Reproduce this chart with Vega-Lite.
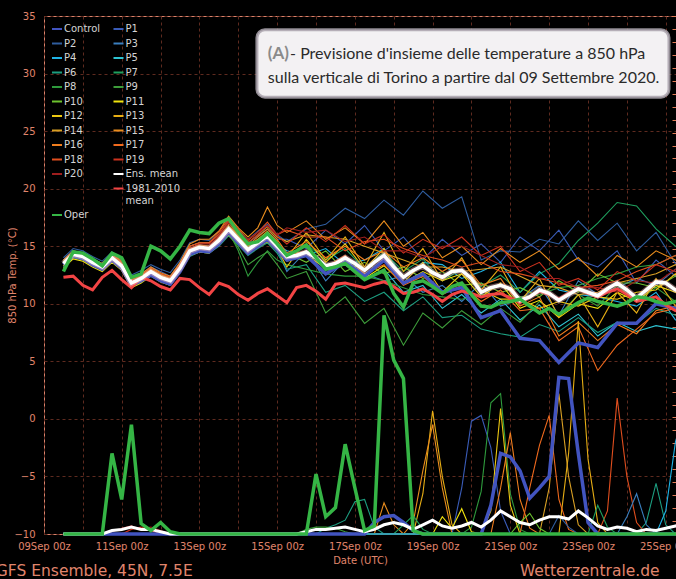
{
"$schema":"https://vega.github.io/schema/vega-lite/v6.json",
"width":632,"height":518,
"autosize":{"type":"none"},
"padding":{"left":44,"top":16,"right":0,"bottom":45},
"background":"#000000",
"config":{
 "view":{"stroke":"#d9826b","strokeWidth":1},
 "axis":{"labelFont":"DejaVu Sans","titleFont":"DejaVu Sans","labelColor":"#e0856c","titleColor":"#e0856c","labelFontSize":10,"titleFontSize":10,"titleFontWeight":"normal","domain":false,"ticks":false,"tickSize":0,"gridColor":"#5e2a1f","gridDash":[3,3],"gridWidth":1,"gridOpacity":1},
 "legend":{"orient":"none","legendX":7,"legendY":7,"columns":2,"direction":"horizontal","symbolType":"stroke","symbolSize":100,"symbolStrokeWidth":2,"labelFont":"DejaVu Sans","labelFontSize":10,"labelColor":"#d4d4d4","rowPadding":3.5,"columnPadding":8.5,"labelOffset":1,"padding":0,"symbolOffset":0,"labelLimit":0}
},
"datasets":{
"temp":[
{"t":"2020-09-09T12:00Z","Oper":12.8,"Mean":13.5,"Clim":12.3,"Control":13.4,"P1":13.8,"P2":14.0,"P3":13.2,"P4":13.6,"P5":13.4,"P6":13.3,"P7":13.5,"P8":13.6,"P9":13.4,"P10":13.5,"P11":13.1,"P12":13.3,"P13":13.6,"P14":13.7,"P15":13.8,"P16":13.5,"P17":13.4,"P18":13.6,"P19":13.5,"P20":13.4},
{"t":"2020-09-09T18:00Z","Oper":14.5,"Mean":14.3,"Clim":12.4,"Control":14.2,"P1":14.6,"P2":14.8,"P3":14.0,"P4":14.4,"P5":14.2,"P6":14.1,"P7":14.4,"P8":14.3,"P9":14.2,"P10":14.3,"P11":13.9,"P12":14.1,"P13":14.4,"P14":14.5,"P15":14.6,"P16":14.4,"P17":14.2,"P18":14.4,"P19":14.3,"P20":14.2},
{"t":"2020-09-10T00:00Z","Oper":14.4,"Mean":14.1,"Clim":11.6,"Control":14.0,"P1":14.4,"P2":14.6,"P3":13.8,"P4":14.2,"P5":14.0,"P6":13.9,"P7":14.2,"P8":14.1,"P9":14.0,"P10":14.1,"P11":13.7,"P12":13.9,"P13":14.2,"P14":14.3,"P15":14.4,"P16":14.2,"P17":14.0,"P18":14.2,"P19":14.1,"P20":14.0},
{"t":"2020-09-10T06:00Z","Oper":13.9,"Mean":13.6,"Clim":11.2,"Control":13.4,"P1":13.9,"P2":14.1,"P3":13.3,"P4":13.7,"P5":13.5,"P6":13.4,"P7":13.7,"P8":13.6,"P9":13.5,"P10":13.6,"P11":13.2,"P12":13.4,"P13":13.7,"P14":13.8,"P15":13.9,"P16":13.6,"P17":13.5,"P18":13.7,"P19":13.6,"P20":13.5},
{"t":"2020-09-10T12:00Z","Oper":13.3,"Mean":13.2,"Clim":12.3,"Control":13.0,"P1":13.5,"P2":13.7,"P3":12.9,"P4":13.3,"P5":13.1,"P6":13.0,"P7":13.3,"P8":13.2,"P9":13.1,"P10":13.2,"P11":12.8,"P12":13.1,"P13":13.3,"P14":13.4,"P15":13.5,"P16":13.3,"P17":13.1,"P18":13.4,"P19":13.2,"P20":13.1},
{"t":"2020-09-10T18:00Z","Oper":14.4,"Mean":14.0,"Clim":12.9,"Control":13.8,"P1":14.3,"P2":14.5,"P3":13.7,"P4":14.1,"P5":13.9,"P6":13.8,"P7":14.1,"P8":13.9,"P9":13.9,"P10":14.0,"P11":13.6,"P12":13.8,"P13":14.2,"P14":14.3,"P15":14.4,"P16":14.1,"P17":13.9,"P18":14.2,"P19":14.0,"P20":13.9},
{"t":"2020-09-11T00:00Z","Oper":14.0,"Mean":13.3,"Clim":12.1,"Control":13.1,"P1":13.7,"P2":13.8,"P3":13.0,"P4":13.4,"P5":13.2,"P6":13.0,"P7":13.4,"P8":13.2,"P9":13.2,"P10":13.3,"P11":12.9,"P12":13.1,"P13":13.5,"P14":13.6,"P15":13.7,"P16":13.3,"P17":13.1,"P18":13.6,"P19":13.4,"P20":13.2},
{"t":"2020-09-11T06:00Z","Oper":12.3,"Mean":11.8,"Clim":11.4,"Control":11.6,"P1":12.2,"P2":12.5,"P3":11.5,"P4":11.9,"P5":11.7,"P6":11.5,"P7":11.9,"P8":11.9,"P9":11.7,"P10":11.8,"P11":11.4,"P12":11.7,"P13":12.0,"P14":12.1,"P15":12.2,"P16":11.9,"P17":11.6,"P18":12.2,"P19":12.0,"P20":11.7},
{"t":"2020-09-11T12:00Z","Oper":12.6,"Mean":12.2,"Clim":12.3,"Control":12.0,"P1":12.6,"P2":12.9,"P3":11.9,"P4":12.3,"P5":12.1,"P6":11.9,"P7":12.3,"P8":12.3,"P9":12.1,"P10":12.2,"P11":11.8,"P12":12.0,"P13":12.4,"P14":12.5,"P15":12.6,"P16":12.3,"P17":12.0,"P18":12.5,"P19":12.3,"P20":12.1},
{"t":"2020-09-11T18:00Z","Oper":15.0,"Mean":12.8,"Clim":12.0,"Control":12.5,"P1":13.2,"P2":13.4,"P3":12.5,"P4":12.9,"P5":12.7,"P6":12.4,"P7":12.9,"P8":12.9,"P9":12.6,"P10":12.8,"P11":12.4,"P12":12.6,"P13":13.0,"P14":13.1,"P15":13.2,"P16":12.8,"P17":12.6,"P18":13.1,"P19":12.9,"P20":12.7},
{"t":"2020-09-12T00:00Z","Oper":14.6,"Mean":12.3,"Clim":11.5,"Control":12.0,"P1":12.8,"P2":13.0,"P3":12.0,"P4":12.4,"P5":12.2,"P6":12.0,"P7":12.5,"P8":12.4,"P9":12.2,"P10":12.3,"P11":11.9,"P12":12.1,"P13":12.5,"P14":12.6,"P15":12.7,"P16":12.3,"P17":12.1,"P18":12.6,"P19":12.4,"P20":12.2},
{"t":"2020-09-12T06:00Z","Oper":13.9,"Mean":12.0,"Clim":11.2,"Control":11.7,"P1":12.4,"P2":12.7,"P3":11.7,"P4":12.1,"P5":11.9,"P6":11.6,"P7":12.2,"P8":12.1,"P9":11.9,"P10":12.0,"P11":11.6,"P12":11.8,"P13":12.2,"P14":12.3,"P15":12.4,"P16":12.0,"P17":11.8,"P18":12.3,"P19":12.1,"P20":11.9},
{"t":"2020-09-12T12:00Z","Oper":15.0,"Mean":13.1,"Clim":12.2,"Control":12.8,"P1":13.5,"P2":13.8,"P3":12.8,"P4":13.2,"P5":13.0,"P6":12.7,"P7":13.3,"P8":13.2,"P9":12.9,"P10":13.1,"P11":12.7,"P12":12.9,"P13":13.3,"P14":13.5,"P15":13.6,"P16":13.2,"P17":12.9,"P18":13.4,"P19":13.3,"P20":13.0},
{"t":"2020-09-12T18:00Z","Oper":16.4,"Mean":14.6,"Clim":12.1,"Control":14.3,"P1":15.0,"P2":15.3,"P3":14.3,"P4":14.7,"P5":14.5,"P6":14.1,"P7":14.8,"P8":14.6,"P9":14.3,"P10":14.6,"P11":14.2,"P12":14.4,"P13":14.8,"P14":15.0,"P15":15.2,"P16":14.7,"P17":14.4,"P18":15.0,"P19":14.8,"P20":14.6},
{"t":"2020-09-13T00:00Z","Oper":16.2,"Mean":14.9,"Clim":11.4,"Control":14.6,"P1":15.3,"P2":15.6,"P3":14.6,"P4":15.0,"P5":14.8,"P6":14.5,"P7":15.1,"P8":14.8,"P9":14.6,"P10":14.9,"P11":14.5,"P12":14.7,"P13":15.1,"P14":15.3,"P15":15.6,"P16":15.0,"P17":14.8,"P18":15.3,"P19":15.2,"P20":15.0},
{"t":"2020-09-13T06:00Z","Oper":16.1,"Mean":14.8,"Clim":10.8,"Control":14.5,"P1":15.3,"P2":15.5,"P3":14.5,"P4":14.9,"P5":14.7,"P6":14.4,"P7":15.0,"P8":14.7,"P9":14.6,"P10":14.8,"P11":14.4,"P12":14.6,"P13":15.0,"P14":15.3,"P15":15.6,"P16":15.0,"P17":14.7,"P18":15.3,"P19":15.2,"P20":15.0},
{"t":"2020-09-13T12:00Z","Oper":17.0,"Mean":15.5,"Clim":11.8,"Control":15.2,"P1":16.0,"P2":16.3,"P3":15.2,"P4":15.6,"P5":15.4,"P6":15.0,"P7":15.7,"P8":15.4,"P9":15.2,"P10":15.5,"P11":15.1,"P12":15.3,"P13":15.7,"P14":16.0,"P15":16.3,"P16":15.8,"P17":15.4,"P18":16.2,"P19":16.0,"P20":15.9},
{"t":"2020-09-13T18:00Z","Oper":17.4,"Mean":16.5,"Clim":11.5,"Control":16.2,"P1":17.0,"P2":17.3,"P3":16.1,"P4":16.6,"P5":16.4,"P6":15.9,"P7":16.7,"P8":16.3,"P9":16.0,"P10":16.5,"P11":16.0,"P12":16.3,"P13":16.8,"P14":17.2,"P15":17.6,"P16":17.0,"P17":16.5,"P18":17.4,"P19":17.2,"P20":17.0},
{"t":"2020-09-14T00:00Z","Oper":16.2,"Mean":15.6,"Clim":10.8,"Control":15.3,"P1":16.1,"P2":16.4,"P3":15.3,"P4":15.7,"P5":15.5,"P6":15.1,"P7":15.8,"P8":14.6,"P9":14.9,"P10":15.6,"P11":15.2,"P12":15.4,"P13":15.9,"P14":16.2,"P15":16.6,"P16":16.0,"P17":15.6,"P18":16.5,"P19":16.2,"P20":16.3},
{"t":"2020-09-14T06:00Z","Oper":15.2,"Mean":14.7,"Clim":10.3,"Control":14.4,"P1":15.3,"P2":15.6,"P3":14.4,"P4":14.8,"P5":14.6,"P6":14.2,"P7":14.9,"P8":12.4,"P9":13.4,"P10":14.7,"P11":14.3,"P12":14.5,"P13":15.0,"P14":15.3,"P15":15.8,"P16":15.1,"P17":14.7,"P18":15.5,"P19":15.3,"P20":15.6},
{"t":"2020-09-14T12:00Z","Oper":15.4,"Mean":15.3,"Clim":10.9,"Control":15.0,"P1":15.9,"P2":16.3,"P3":15.0,"P4":15.4,"P5":15.2,"P6":14.8,"P7":15.5,"P8":13.6,"P9":14.0,"P10":15.3,"P11":14.9,"P12":15.1,"P13":15.6,"P14":16.0,"P15":16.6,"P16":15.8,"P17":15.4,"P18":16.2,"P19":16.0,"P20":16.2},
{"t":"2020-09-14T18:00Z","Oper":16.1,"Mean":15.9,"Clim":11.3,"Control":15.6,"P1":16.5,"P2":16.9,"P3":15.6,"P4":16.0,"P5":15.8,"P6":15.3,"P7":16.1,"P8":14.6,"P9":14.5,"P10":15.9,"P11":15.4,"P12":15.7,"P13":16.3,"P14":16.7,"P15":18.4,"P16":16.5,"P17":16.0,"P18":17.1,"P19":16.8,"P20":16.8},
{"t":"2020-09-15T00:00Z","Oper":15.2,"Mean":15.0,"Clim":10.7,"Control":14.7,"P1":15.6,"P2":16.0,"P3":14.7,"P4":15.1,"P5":14.9,"P6":14.4,"P7":15.2,"P8":13.8,"P9":13.4,"P10":15.0,"P11":14.6,"P12":14.8,"P13":15.4,"P14":15.8,"P15":16.8,"P16":15.6,"P17":15.1,"P18":16.0,"P19":15.9,"P20":16.0},
{"t":"2020-09-15T06:00Z","Oper":14.2,"Mean":14.1,"Clim":10.1,"Control":13.8,"P1":15.6,"P2":15.4,"P3":12.8,"P4":14.6,"P5":14.2,"P6":13.0,"P7":14.0,"P8":13.4,"P9":12.2,"P10":14.4,"P11":13.7,"P12":13.2,"P13":14.0,"P14":15.4,"P15":16.2,"P16":14.4,"P17":14.2,"P18":16.4,"P19":15.2,"P20":16.6},
{"t":"2020-09-15T12:00Z","Oper":14.6,"Mean":14.2,"Clim":11.4},
{"t":"2020-09-15T18:00Z","Oper":15.1,"Mean":14.5,"Clim":11.6,"Control":14.2,"P1":14.8,"P2":16.5,"P3":14.6,"P4":14.2,"P5":14.6,"P6":13.4,"P7":15.2,"P8":13.0,"P9":12.8,"P10":13.6,"P11":14.2,"P12":15.6,"P13":16.2,"P14":16.0,"P15":17.2,"P16":15.4,"P17":14.6,"P18":15.8,"P19":16.6,"P20":16.2},
{"t":"2020-09-16T00:00Z","Oper":14.0,"Mean":14.0,"Clim":11.1},
{"t":"2020-09-16T06:00Z","Oper":13.0,"Mean":13.3,"Clim":10.4,"Control":12.6,"P1":16.4,"P2":16.9,"P3":12.0,"P4":14.8,"P5":13.0,"P6":11.0,"P7":13.8,"P8":12.6,"P9":9.2,"P10":14.6,"P11":13.1,"P12":13.6,"P13":13.8,"P14":15.8,"P15":15.6,"P16":14.0,"P17":13.2,"P18":15.8,"P19":15.4,"P20":16.4},
{"t":"2020-09-16T12:00Z","Oper":13.2,"Mean":13.5,"Clim":11.7},
{"t":"2020-09-16T18:00Z","Oper":13.5,"Mean":14.0,"Clim":11.8,"Control":13.6,"P1":15.2,"P2":18.3,"P3":13.8,"P4":13.4,"P5":13.4,"P6":11.6,"P7":14.8,"P8":12.4,"P9":10.6,"P10":12.8,"P11":13.4,"P12":15.2,"P13":15.8,"P14":15.6,"P15":16.6,"P16":15.0,"P17":14.2,"P18":14.6,"P19":16.8,"P20":15.4},
{"t":"2020-09-17T00:00Z","Oper":12.8,"Mean":13.5,"Clim":11.6},
{"t":"2020-09-17T06:00Z","Oper":12.1,"Mean":12.9,"Clim":11.4,"Control":12.4,"P1":16.8,"P2":17.4,"P3":12.6,"P4":13.8,"P5":12.1,"P6":10.2,"P7":13.0,"P8":12.4,"P9":8.3,"P10":13.6,"P11":12.2,"P12":13.0,"P13":13.2,"P14":15.0,"P15":15.2,"P16":13.8,"P17":12.6,"P18":15.4,"P19":15.2,"P20":15.8},
{"t":"2020-09-17T12:00Z","Oper":12.5,"Mean":13.6,"Clim":11.7},
{"t":"2020-09-17T18:00Z","Oper":12.9,"Mean":14.2,"Clim":11.9,"Control":13.8,"P1":14.6,"P2":19.0,"P3":12.0,"P4":14.8,"P5":13.0,"P6":11.0,"P7":14.5,"P8":12.0,"P9":9.6,"P10":12.6,"P11":13.3,"P12":14.8,"P13":16.2,"P14":14.4,"P15":17.2,"P16":14.6,"P17":13.4,"P18":15.6,"P19":16.0,"P20":14.6},
{"t":"2020-09-18T00:00Z","Oper":10.9,"Mean":13.2,"Clim":11.5},
{"t":"2020-09-18T06:00Z","Oper":9.7,"Mean":12.3,"Clim":10.9,"Control":11.8,"P1":15.8,"P2":17.7,"P3":12.4,"P4":12.2,"P5":11.0,"P6":9.4,"P7":12.8,"P8":11.4,"P9":6.4,"P10":13.2,"P11":11.8,"P12":11.8,"P13":12.8,"P14":13.8,"P15":15.0,"P16":13.2,"P17":11.6,"P18":14.8,"P19":14.4,"P20":14.6},
{"t":"2020-09-18T12:00Z","Oper":11.8,"Mean":12.9,"Clim":11.0},
{"t":"2020-09-18T18:00Z","Oper":12.0,"Mean":13.3,"Clim":11.3,"Control":12.6,"P1":13.8,"P2":19.8,"P3":11.0,"P4":13.6,"P5":11.6,"P6":10.6,"P7":13.9,"P8":10.8,"P9":9.2,"P10":12.2,"P11":12.8,"P12":13.6,"P13":14.8,"P14":13.2,"P15":16.2,"P16":14.0,"P17":12.4,"P18":14.2,"P19":15.6,"P20":14.0},
{"t":"2020-09-19T00:00Z","Oper":11.5,"Mean":12.7,"Clim":10.8},
{"t":"2020-09-19T06:00Z","Oper":10.9,"Mean":12.3,"Clim":10.2,"Control":11.0,"P1":15.6,"P2":18.3,"P3":11.6,"P4":13.4,"P5":9.6,"P6":8.8,"P7":12.0,"P8":10.6,"P9":7.9,"P10":12.8,"P11":12.0,"P12":11.0,"P13":12.0,"P14":13.2,"P15":14.0,"P16":12.8,"P17":10.8,"P18":13.8,"P19":14.8,"P20":15.0},
{"t":"2020-09-19T12:00Z","Oper":11.5,"Mean":12.8,"Clim":10.8},
{"t":"2020-09-19T18:00Z","Oper":11.8,"Mean":12.9,"Clim":11.1,"Control":11.4,"P1":14.2,"P2":19.3,"P3":10.2,"P4":12.2,"P5":10.8,"P6":9.0,"P7":13.0,"P8":10.4,"P9":9.4,"P10":11.6,"P11":12.6,"P12":12.6,"P13":14.0,"P14":12.8,"P15":15.0,"P16":13.8,"P17":11.6,"P18":13.2,"P19":15.8,"P20":15.0},
{"t":"2020-09-20T00:00Z","Oper":10.8,"Mean":12.2,"Clim":10.9},
{"t":"2020-09-20T06:00Z","Oper":9.8,"Mean":11.0,"Clim":10.6,"Control":8.8,"P1":15.2,"P2":13.8,"P3":11.8,"P4":12.8,"P5":9.2,"P6":7.8,"P7":11.5,"P8":10.8,"P9":8.2,"P10":11.8,"P11":10.6,"P12":11.2,"P13":11.2,"P14":13.0,"P15":13.4,"P16":11.6,"P17":10.2,"P18":13.6,"P19":14.2,"P20":14.2},
{"t":"2020-09-20T12:00Z","Oper":9.7,"Mean":11.4,"Clim":10.8},
{"t":"2020-09-20T18:00Z","Oper":10.1,"Mean":11.6,"Clim":10.9,"Control":9.4,"P1":13.6,"P2":14.6,"P3":9.8,"P4":13.6,"P5":10.4,"P6":7.4,"P7":12.5,"P8":10.8,"P9":9.6,"P10":11.0,"P11":11.8,"P12":10.4,"P13":13.2,"P14":13.2,"P15":14.8,"P16":12.2,"P17":11.2,"P18":12.8,"P19":15.0,"P20":13.4},
{"t":"2020-09-21T00:00Z","Oper":10.2,"Mean":11.3,"Clim":10.5},
{"t":"2020-09-21T06:00Z","Oper":10.4,"Mean":10.3,"Clim":10.1,"Control":7.0,"P1":15.8,"P2":14.5,"P3":10.4,"P4":11.0,"P5":8.6,"P6":7.1,"P7":11.0,"P8":10.6,"P9":8.4,"P10":11.4,"P11":9.6,"P12":10.4,"P13":10.2,"P14":12.4,"P15":13.6,"P16":9.8,"P17":9.4,"P18":12.6,"P19":12.8,"P20":13.2},
{"t":"2020-09-21T12:00Z","Oper":9.8,"Mean":10.6,"Clim":10.6},
{"t":"2020-09-21T18:00Z","Oper":9.2,"Mean":11.2,"Clim":11.1,"Control":6.8,"P1":14.6,"P2":15.6,"P3":11.6,"P4":12.8,"P5":9.9,"P6":8.2,"P7":12.6,"P8":10.8,"P9":10.2,"P10":10.6,"P11":10.3,"P12":9.6,"P13":12.2,"P14":11.6,"P15":14.6,"P16":10.6,"P17":9.6,"P18":12.2,"P19":13.6,"P20":12.2},
{"t":"2020-09-22T00:00Z","Oper":9.6,"Mean":10.9,"Clim":10.8},
{"t":"2020-09-22T06:00Z","Oper":9.1,"Mean":10.3,"Clim":10.4,"Control":4.9,"P1":16.4,"P2":15.2,"P3":9.0,"P4":11.2,"P5":8.0,"P6":7.6,"P7":13.5,"P8":11.4,"P9":9.0,"P10":12.0,"P11":8.8,"P12":10.2,"P13":8.8,"P14":11.4,"P15":13.0,"P16":7.2,"P17":6.8,"P18":11.8,"P19":11.6,"P20":12.2},
{"t":"2020-09-22T12:00Z","Oper":9.6,"Mean":10.8,"Clim":10.9},
{"t":"2020-09-22T18:00Z","Oper":10.1,"Mean":11.3,"Clim":11.3,"Control":6.6,"P1":13.8,"P2":17.2,"P3":12.0,"P4":10.8,"P5":9.1,"P6":8.8,"P7":15.5,"P8":11.6,"P9":10.8,"P10":11.0,"P11":10.0,"P12":9.8,"P13":10.8,"P14":10.8,"P15":14.0,"P16":8.4,"P17":8.0,"P18":11.4,"P19":12.2,"P20":11.4},
{"t":"2020-09-23T00:00Z","Oper":10.5,"Mean":11.0,"Clim":10.9},
{"t":"2020-09-23T06:00Z","Oper":10.2,"Mean":10.7,"Clim":10.6,"Control":6.2,"P1":13.2,"P2":15.5,"P3":10.8,"P4":10.6,"P5":7.2,"P6":7.5,"P7":17.0,"P8":12.2,"P9":9.8,"P10":12.6,"P11":9.6,"P12":10.6,"P13":8.0,"P14":11.0,"P15":12.4,"P16":6.8,"P17":4.2,"P18":11.6,"P19":11.2,"P20":11.4},
{"t":"2020-09-23T12:00Z","Oper":10.0,"Mean":11.3,"Clim":11.0},
{"t":"2020-09-23T18:00Z","Oper":9.8,"Mean":11.8,"Clim":11.3,"Control":8.3,"P1":14.6,"P2":17.0,"P3":11.4,"P4":10.2,"P5":8.4,"P6":8.4,"P7":18.8,"P8":12.6,"P9":11.6,"P10":11.8,"P11":11.0,"P12":10.4,"P13":11.0,"P14":11.8,"P15":14.2,"P16":8.2,"P17":6.4,"P18":12.0,"P19":12.8,"P20":11.0},
{"t":"2020-09-24T00:00Z","Oper":10.1,"Mean":11.2,"Clim":10.8},
{"t":"2020-09-24T06:00Z","Oper":10.6,"Mean":10.5,"Clim":10.2,"Control":8.3,"P1":11.8,"P2":14.6,"P3":12.2,"P4":9.8,"P5":7.6,"P6":8.3,"P7":18.5,"P8":13.2,"P9":10.2,"P10":11.8,"P11":10.2,"P12":11.0,"P13":9.2,"P14":12.2,"P15":13.2,"P16":7.4,"P17":7.8,"P18":12.8,"P19":12.0,"P20":12.0},
{"t":"2020-09-24T12:00Z","Oper":10.5,"Mean":11.2,"Clim":10.4},
{"t":"2020-09-24T18:00Z","Oper":10.2,"Mean":11.9,"Clim":10.6,"Control":10.0,"P1":13.8,"P2":16.2,"P3":11.6,"P4":11.0,"P5":8.1,"P6":9.6,"P7":16.5,"P8":13.4,"P9":11.4,"P10":11.4,"P11":11.6,"P12":11.2,"P13":12.2,"P14":12.6,"P15":14.6,"P16":9.4,"P17":9.2,"P18":13.4,"P19":13.4,"P20":11.8},
{"t":"2020-09-25T00:00Z","Oper":10.0,"Mean":11.8,"Clim":9.9},
{"t":"2020-09-25T06:00Z","Oper":10.2,"Mean":11.2,"Clim":9.4,"Control":9.6,"P1":12.4,"P2":13.5,"P3":13.0,"P4":8.6,"P5":7.8,"P6":9.0,"P7":15.0,"P8":14.2,"P9":10.2,"P10":12.4,"P11":11.0,"P12":12.6,"P13":9.8,"P14":13.4,"P15":13.8,"P16":9.8,"P17":9.6,"P18":14.2,"P19":12.8,"P20":13.0},
{"t":"2020-09-25T12:00Z","Oper":10.3,"Mean":10.9,"Clim":9.2,"Control":9.4,"P1":11.6,"P2":13.0,"P3":12.4,"P4":8.5,"P5":7.5,"P6":8.8,"P7":14.5,"P8":13.6,"P9":9.8,"P10":11.8,"P11":10.6,"P12":11.6,"P13":10.0,"P14":12.8,"P15":13.4,"P16":9.6,"P17":9.4,"P18":13.6,"P19":12.4,"P20":12.4}
],
"rain":[
{"t":"2020-09-09T12:00Z","key":"Oper","v":-10},{"t":"2020-09-10T12:00Z","key":"Oper","v":-10},{"t":"2020-09-10T18:00Z","key":"Oper","v":-3.0},{"t":"2020-09-11T00:00Z","key":"Oper","v":-7.0},{"t":"2020-09-11T06:00Z","key":"Oper","v":-0.5},{"t":"2020-09-11T12:00Z","key":"Oper","v":-9.1},{"t":"2020-09-11T18:00Z","key":"Oper","v":-9.7},{"t":"2020-09-12T00:00Z","key":"Oper","v":-9.0},{"t":"2020-09-12T06:00Z","key":"Oper","v":-9.8},{"t":"2020-09-12T12:00Z","key":"Oper","v":-10},{"t":"2020-09-15T18:00Z","key":"Oper","v":-10},{"t":"2020-09-16T00:00Z","key":"Oper","v":-4.8},{"t":"2020-09-16T06:00Z","key":"Oper","v":-8.5},{"t":"2020-09-16T12:00Z","key":"Oper","v":-7.7},{"t":"2020-09-16T18:00Z","key":"Oper","v":-2.2},{"t":"2020-09-17T00:00Z","key":"Oper","v":-6.0},{"t":"2020-09-17T06:00Z","key":"Oper","v":-9.7},{"t":"2020-09-17T12:00Z","key":"Oper","v":-9.3},{"t":"2020-09-17T18:00Z","key":"Oper","v":9.0},{"t":"2020-09-18T00:00Z","key":"Oper","v":5.1},{"t":"2020-09-18T06:00Z","key":"Oper","v":3.5},{"t":"2020-09-18T12:00Z","key":"Oper","v":-9.7},{"t":"2020-09-18T18:00Z","key":"Oper","v":-10},{"t":"2020-09-25T12:00Z","key":"Oper","v":-10},
{"t":"2020-09-09T12:00Z","key":"Control","v":-10},{"t":"2020-09-17T06:00Z","key":"Control","v":-10},{"t":"2020-09-17T12:00Z","key":"Control","v":-9.0},{"t":"2020-09-17T18:00Z","key":"Control","v":-8.5},{"t":"2020-09-18T00:00Z","key":"Control","v":-8.4},{"t":"2020-09-18T06:00Z","key":"Control","v":-9.0},{"t":"2020-09-18T12:00Z","key":"Control","v":-9.7},{"t":"2020-09-18T18:00Z","key":"Control","v":-10},{"t":"2020-09-20T06:00Z","key":"Control","v":-10},{"t":"2020-09-20T12:00Z","key":"Control","v":-7.5},{"t":"2020-09-20T18:00Z","key":"Control","v":-3.0},{"t":"2020-09-21T00:00Z","key":"Control","v":-3.3},{"t":"2020-09-21T06:00Z","key":"Control","v":-4.5},{"t":"2020-09-21T12:00Z","key":"Control","v":-6.9},{"t":"2020-09-21T18:00Z","key":"Control","v":-6.0},{"t":"2020-09-22T00:00Z","key":"Control","v":-5.0},{"t":"2020-09-22T06:00Z","key":"Control","v":3.6},{"t":"2020-09-22T12:00Z","key":"Control","v":3.5},{"t":"2020-09-22T18:00Z","key":"Control","v":-3.0},{"t":"2020-09-23T00:00Z","key":"Control","v":-9.0},{"t":"2020-09-23T06:00Z","key":"Control","v":-10},{"t":"2020-09-25T12:00Z","key":"Control","v":-10},
{"t":"2020-09-09T12:00Z","key":"Mean","v":-10},{"t":"2020-09-10T12:00Z","key":"Mean","v":-10},{"t":"2020-09-10T18:00Z","key":"Mean","v":-9.7},{"t":"2020-09-11T00:00Z","key":"Mean","v":-9.6},{"t":"2020-09-11T06:00Z","key":"Mean","v":-9.4},{"t":"2020-09-11T12:00Z","key":"Mean","v":-9.6},{"t":"2020-09-11T18:00Z","key":"Mean","v":-9.6},{"t":"2020-09-12T00:00Z","key":"Mean","v":-9.8},{"t":"2020-09-12T06:00Z","key":"Mean","v":-10},{"t":"2020-09-15T12:00Z","key":"Mean","v":-10},{"t":"2020-09-15T18:00Z","key":"Mean","v":-9.8},{"t":"2020-09-16T00:00Z","key":"Mean","v":-9.6},{"t":"2020-09-16T06:00Z","key":"Mean","v":-9.6},{"t":"2020-09-16T12:00Z","key":"Mean","v":-9.5},{"t":"2020-09-16T18:00Z","key":"Mean","v":-9.4},{"t":"2020-09-17T00:00Z","key":"Mean","v":-9.6},{"t":"2020-09-17T06:00Z","key":"Mean","v":-9.8},{"t":"2020-09-17T12:00Z","key":"Mean","v":-9.6},{"t":"2020-09-17T18:00Z","key":"Mean","v":-9.2},{"t":"2020-09-18T00:00Z","key":"Mean","v":-9.0},{"t":"2020-09-18T06:00Z","key":"Mean","v":-9.2},{"t":"2020-09-18T12:00Z","key":"Mean","v":-9.6},{"t":"2020-09-18T18:00Z","key":"Mean","v":-9.2},{"t":"2020-09-19T00:00Z","key":"Mean","v":-8.8},{"t":"2020-09-19T06:00Z","key":"Mean","v":-9.3},{"t":"2020-09-19T12:00Z","key":"Mean","v":-9.5},{"t":"2020-09-19T18:00Z","key":"Mean","v":-9.3},{"t":"2020-09-20T00:00Z","key":"Mean","v":-9.0},{"t":"2020-09-20T06:00Z","key":"Mean","v":-9.4},{"t":"2020-09-20T12:00Z","key":"Mean","v":-8.8},{"t":"2020-09-20T18:00Z","key":"Mean","v":-8.0},{"t":"2020-09-21T00:00Z","key":"Mean","v":-8.5},{"t":"2020-09-21T06:00Z","key":"Mean","v":-9.0},{"t":"2020-09-21T12:00Z","key":"Mean","v":-9.2},{"t":"2020-09-21T18:00Z","key":"Mean","v":-8.8},{"t":"2020-09-22T00:00Z","key":"Mean","v":-8.5},{"t":"2020-09-22T06:00Z","key":"Mean","v":-8.5},{"t":"2020-09-22T12:00Z","key":"Mean","v":-8.7},{"t":"2020-09-22T18:00Z","key":"Mean","v":-8.0},{"t":"2020-09-23T00:00Z","key":"Mean","v":-8.6},{"t":"2020-09-23T06:00Z","key":"Mean","v":-9.3},{"t":"2020-09-23T12:00Z","key":"Mean","v":-9.6},{"t":"2020-09-23T18:00Z","key":"Mean","v":-9.4},{"t":"2020-09-24T00:00Z","key":"Mean","v":-9.5},{"t":"2020-09-24T06:00Z","key":"Mean","v":-9.8},{"t":"2020-09-24T12:00Z","key":"Mean","v":-9.6},{"t":"2020-09-24T18:00Z","key":"Mean","v":-9.7},{"t":"2020-09-25T00:00Z","key":"Mean","v":-9.5},{"t":"2020-09-25T06:00Z","key":"Mean","v":-9.3},{"t":"2020-09-25T12:00Z","key":"Mean","v":-9.2},
{"t":"2020-09-09T12:00Z","key":"P20","v":-10},{"t":"2020-09-10T12:00Z","key":"P20","v":-10},{"t":"2020-09-10T18:00Z","key":"P20","v":-9.8},{"t":"2020-09-11T00:00Z","key":"P20","v":-9.5},{"t":"2020-09-11T06:00Z","key":"P20","v":-9.3},{"t":"2020-09-11T12:00Z","key":"P20","v":-9.6},{"t":"2020-09-11T18:00Z","key":"P20","v":-9.4},{"t":"2020-09-12T00:00Z","key":"P20","v":-9.7},{"t":"2020-09-12T06:00Z","key":"P20","v":-10},{"t":"2020-09-25T12:00Z","key":"P20","v":-10},
{"t":"2020-09-09T12:00Z","key":"P19","v":-10},{"t":"2020-09-11T00:00Z","key":"P19","v":-10},{"t":"2020-09-11T06:00Z","key":"P19","v":-9.6},{"t":"2020-09-11T12:00Z","key":"P19","v":-9.4},{"t":"2020-09-11T18:00Z","key":"P19","v":-9.7},{"t":"2020-09-12T00:00Z","key":"P19","v":-10},{"t":"2020-09-25T12:00Z","key":"P19","v":-10},
{"t":"2020-09-09T12:00Z","key":"P6","v":-10},{"t":"2020-09-16T00:00Z","key":"P6","v":-10},{"t":"2020-09-16T06:00Z","key":"P6","v":-9.5},{"t":"2020-09-16T12:00Z","key":"P6","v":-9.2},{"t":"2020-09-16T18:00Z","key":"P6","v":-8.8},{"t":"2020-09-17T00:00Z","key":"P6","v":-7.2},{"t":"2020-09-17T06:00Z","key":"P6","v":-7.0},{"t":"2020-09-17T12:00Z","key":"P6","v":-9.4},{"t":"2020-09-17T18:00Z","key":"P6","v":-10},{"t":"2020-09-24T06:00Z","key":"P6","v":-10},{"t":"2020-09-24T12:00Z","key":"P6","v":-9.0},{"t":"2020-09-24T18:00Z","key":"P6","v":-5.6},{"t":"2020-09-25T00:00Z","key":"P6","v":-9.2},{"t":"2020-09-25T06:00Z","key":"P6","v":-10},{"t":"2020-09-25T12:00Z","key":"P6","v":-10},
{"t":"2020-09-09T12:00Z","key":"P9","v":-10},{"t":"2020-09-15T12:00Z","key":"P9","v":-10},{"t":"2020-09-15T18:00Z","key":"P9","v":-9.6},{"t":"2020-09-16T00:00Z","key":"P9","v":-9.4},{"t":"2020-09-16T06:00Z","key":"P9","v":-9.4},{"t":"2020-09-16T12:00Z","key":"P9","v":-9.5},{"t":"2020-09-16T18:00Z","key":"P9","v":-9.8},{"t":"2020-09-17T00:00Z","key":"P9","v":-10},{"t":"2020-09-25T12:00Z","key":"P9","v":-10},
{"t":"2020-09-09T12:00Z","key":"P1","v":-10},{"t":"2020-09-19T12:00Z","key":"P1","v":-10},{"t":"2020-09-19T18:00Z","key":"P1","v":-6.0},{"t":"2020-09-20T00:00Z","key":"P1","v":-0.2},{"t":"2020-09-20T06:00Z","key":"P1","v":0.3},{"t":"2020-09-20T12:00Z","key":"P1","v":-2.5},{"t":"2020-09-20T18:00Z","key":"P1","v":-8.0},{"t":"2020-09-21T00:00Z","key":"P1","v":-10},{"t":"2020-09-25T12:00Z","key":"P1","v":-10},
{"t":"2020-09-09T12:00Z","key":"P8","v":-10},{"t":"2020-09-19T18:00Z","key":"P8","v":-10},{"t":"2020-09-20T00:00Z","key":"P8","v":-9.4},{"t":"2020-09-20T06:00Z","key":"P8","v":-6.3},{"t":"2020-09-20T12:00Z","key":"P8","v":1.4},{"t":"2020-09-20T18:00Z","key":"P8","v":2.2},{"t":"2020-09-21T00:00Z","key":"P8","v":-6.5},{"t":"2020-09-21T06:00Z","key":"P8","v":-9.6},{"t":"2020-09-21T12:00Z","key":"P8","v":-10},{"t":"2020-09-25T12:00Z","key":"P8","v":-10},
{"t":"2020-09-09T12:00Z","key":"P13","v":-10},{"t":"2020-09-18T12:00Z","key":"P13","v":-10},{"t":"2020-09-18T18:00Z","key":"P13","v":-6.5},{"t":"2020-09-19T00:00Z","key":"P13","v":0.7},{"t":"2020-09-19T06:00Z","key":"P13","v":-5.0},{"t":"2020-09-19T12:00Z","key":"P13","v":-9.2},{"t":"2020-09-19T18:00Z","key":"P13","v":-10},{"t":"2020-09-22T06:00Z","key":"P13","v":-10},{"t":"2020-09-22T12:00Z","key":"P13","v":-3.0},{"t":"2020-09-22T18:00Z","key":"P13","v":8.5},{"t":"2020-09-23T00:00Z","key":"P13","v":-3.5},{"t":"2020-09-23T06:00Z","key":"P13","v":-9.0},{"t":"2020-09-23T12:00Z","key":"P13","v":-10},{"t":"2020-09-25T12:00Z","key":"P13","v":-10},
{"t":"2020-09-09T12:00Z","key":"P15","v":-10},{"t":"2020-09-17T12:00Z","key":"P15","v":-10},{"t":"2020-09-17T18:00Z","key":"P15","v":-7.3},{"t":"2020-09-18T00:00Z","key":"P15","v":-9.2},{"t":"2020-09-18T06:00Z","key":"P15","v":-10},{"t":"2020-09-18T12:00Z","key":"P15","v":-9.0},{"t":"2020-09-18T18:00Z","key":"P15","v":-4.5},{"t":"2020-09-19T00:00Z","key":"P15","v":-0.5},{"t":"2020-09-19T06:00Z","key":"P15","v":-6.0},{"t":"2020-09-19T12:00Z","key":"P15","v":-10},{"t":"2020-09-25T12:00Z","key":"P15","v":-10},
{"t":"2020-09-09T12:00Z","key":"P12","v":-10},{"t":"2020-09-20T06:00Z","key":"P12","v":-10},{"t":"2020-09-20T12:00Z","key":"P12","v":-8.0},{"t":"2020-09-20T18:00Z","key":"P12","v":0.9},{"t":"2020-09-21T00:00Z","key":"P12","v":-7.5},{"t":"2020-09-21T06:00Z","key":"P12","v":-10},{"t":"2020-09-25T12:00Z","key":"P12","v":-10},
{"t":"2020-09-09T12:00Z","key":"P16","v":-10},{"t":"2020-09-20T12:00Z","key":"P16","v":-10},{"t":"2020-09-20T18:00Z","key":"P16","v":-6.0},{"t":"2020-09-21T00:00Z","key":"P16","v":-1.2},{"t":"2020-09-21T06:00Z","key":"P16","v":-7.0},{"t":"2020-09-21T12:00Z","key":"P16","v":-9.5},{"t":"2020-09-21T18:00Z","key":"P16","v":-10},{"t":"2020-09-25T12:00Z","key":"P16","v":-10},
{"t":"2020-09-09T12:00Z","key":"P17","v":-10},{"t":"2020-09-21T06:00Z","key":"P17","v":-10},{"t":"2020-09-21T12:00Z","key":"P17","v":-6.0},{"t":"2020-09-21T18:00Z","key":"P17","v":-2.3},{"t":"2020-09-22T00:00Z","key":"P17","v":0.3},{"t":"2020-09-22T06:00Z","key":"P17","v":-7.0},{"t":"2020-09-22T12:00Z","key":"P17","v":-9.6},{"t":"2020-09-22T18:00Z","key":"P17","v":-10},{"t":"2020-09-25T12:00Z","key":"P17","v":-10},
{"t":"2020-09-09T12:00Z","key":"P14","v":-10},{"t":"2020-09-21T18:00Z","key":"P14","v":-10},{"t":"2020-09-22T00:00Z","key":"P14","v":-6.0},{"t":"2020-09-22T06:00Z","key":"P14","v":2.2},{"t":"2020-09-22T12:00Z","key":"P14","v":-5.0},{"t":"2020-09-22T18:00Z","key":"P14","v":-9.2},{"t":"2020-09-23T00:00Z","key":"P14","v":-10},{"t":"2020-09-25T12:00Z","key":"P14","v":-10},
{"t":"2020-09-09T12:00Z","key":"P18","v":-10},{"t":"2020-09-23T06:00Z","key":"P18","v":-10},{"t":"2020-09-23T12:00Z","key":"P18","v":-8.0},{"t":"2020-09-23T18:00Z","key":"P18","v":1.8},{"t":"2020-09-24T00:00Z","key":"P18","v":-5.0},{"t":"2020-09-24T06:00Z","key":"P18","v":-9.0},{"t":"2020-09-24T12:00Z","key":"P18","v":-10},{"t":"2020-09-25T12:00Z","key":"P18","v":-10},
{"t":"2020-09-09T12:00Z","key":"P4","v":-10},{"t":"2020-09-24T18:00Z","key":"P4","v":-10},{"t":"2020-09-25T00:00Z","key":"P4","v":-8.0},{"t":"2020-09-25T06:00Z","key":"P4","v":-2.0},{"t":"2020-09-25T12:00Z","key":"P4","v":1.0},
{"t":"2020-09-09T12:00Z","key":"P11","v":-10},{"t":"2020-09-19T00:00Z","key":"P11","v":-10},{"t":"2020-09-19T06:00Z","key":"P11","v":-8.5},{"t":"2020-09-19T12:00Z","key":"P11","v":-9.5},{"t":"2020-09-19T18:00Z","key":"P11","v":-7.8},{"t":"2020-09-20T00:00Z","key":"P11","v":-9.8},{"t":"2020-09-20T06:00Z","key":"P11","v":-10},{"t":"2020-09-25T12:00Z","key":"P11","v":-10},
{"t":"2020-09-09T12:00Z","key":"P7","v":-10},{"t":"2020-09-18T00:00Z","key":"P7","v":-10},{"t":"2020-09-18T06:00Z","key":"P7","v":-9.2},{"t":"2020-09-18T12:00Z","key":"P7","v":-8.4},{"t":"2020-09-18T18:00Z","key":"P7","v":-9.6},{"t":"2020-09-19T00:00Z","key":"P7","v":-10},{"t":"2020-09-23T00:00Z","key":"P7","v":-10},{"t":"2020-09-23T06:00Z","key":"P7","v":-7.5},{"t":"2020-09-23T12:00Z","key":"P7","v":-9.4},{"t":"2020-09-23T18:00Z","key":"P7","v":-10},{"t":"2020-09-25T12:00Z","key":"P7","v":-10},
{"t":"2020-09-09T12:00Z","key":"P10","v":-10},{"t":"2020-09-21T00:00Z","key":"P10","v":-10},{"t":"2020-09-21T06:00Z","key":"P10","v":-9.0},{"t":"2020-09-21T12:00Z","key":"P10","v":-8.2},{"t":"2020-09-21T18:00Z","key":"P10","v":-9.5},{"t":"2020-09-22T00:00Z","key":"P10","v":-10},{"t":"2020-09-25T12:00Z","key":"P10","v":-10},
{"t":"2020-09-09T12:00Z","key":"P3","v":-10},{"t":"2020-09-23T18:00Z","key":"P3","v":-10},{"t":"2020-09-24T00:00Z","key":"P3","v":-8.5},{"t":"2020-09-24T06:00Z","key":"P3","v":-6.5},{"t":"2020-09-24T12:00Z","key":"P3","v":-9.2},{"t":"2020-09-24T18:00Z","key":"P3","v":-10},{"t":"2020-09-25T12:00Z","key":"P3","v":-10},
{"t":"2020-09-09T12:00Z","key":"P2","v":-10},{"t":"2020-09-22T00:00Z","key":"P2","v":-10},{"t":"2020-09-22T06:00Z","key":"P2","v":-8.4},{"t":"2020-09-22T12:00Z","key":"P2","v":-9.4},{"t":"2020-09-22T18:00Z","key":"P2","v":-10},{"t":"2020-09-25T12:00Z","key":"P2","v":-10},
{"t":"2020-09-09T12:00Z","key":"P5","v":-10},{"t":"2020-09-25T12:00Z","key":"P5","v":-10}
]
},
"layer":[
{
"encoding":{
 "x":{"field":"t","type":"temporal","scale":{"type":"utc","domain":[{"year":2020,"month":9,"date":9,"hours":0,"utc":true},{"year":2020,"month":9,"date":25,"hours":6,"minutes":20,"utc":true}]},
  "axis":{"values":[{"year":2020,"month":9,"date":9,"utc":true},{"year":2020,"month":9,"date":10,"utc":true},{"year":2020,"month":9,"date":11,"utc":true},{"year":2020,"month":9,"date":12,"utc":true},{"year":2020,"month":9,"date":13,"utc":true},{"year":2020,"month":9,"date":14,"utc":true},{"year":2020,"month":9,"date":15,"utc":true},{"year":2020,"month":9,"date":16,"utc":true},{"year":2020,"month":9,"date":17,"utc":true},{"year":2020,"month":9,"date":18,"utc":true},{"year":2020,"month":9,"date":19,"utc":true},{"year":2020,"month":9,"date":20,"utc":true},{"year":2020,"month":9,"date":21,"utc":true},{"year":2020,"month":9,"date":22,"utc":true},{"year":2020,"month":9,"date":23,"utc":true},{"year":2020,"month":9,"date":24,"utc":true},{"year":2020,"month":9,"date":25,"utc":true}],
   "labelExpr":"utcdate(datum.value) % 2 == 1 ? utcFormat(datum.value, '%d%b %Hz') : ''","title":"Date (UTC)","labelPadding":7,"titlePadding":4,"grid":true,"labelOverlap":false,"labelFlush":false,"labelBound":false}},
 "y":{"field":"v","type":"quantitative","scale":{"domain":[-10,35],"nice":false,"zero":false},
  "axis":{"values":[-10,-5,0,5,10,15,20,25,30,35],"title":"850 hPa Temp. (°C)","labelPadding":9,"titleX":-32,"titleY":259,"titleAngle":-90,"titleBaseline":"middle","titleAlign":"center","grid":true}}
},
"layer":[
 {"data":{"name":"temp"},"transform":[{"fold":["P1","P2","P3","P4","P5","P6","P7","P8","P9","P10","P11","P12","P13","P14","P15","P16","P17","P18","P19","P20"],"as":["key","v"]},{"filter":"isValid(datum.v)"}],
  "mark":{"type":"line","strokeWidth":1.1},
  "encoding":{"color":{"field":"key","type":"nominal",
   "scale":{"domain":["Control","P1","P2","P3","P4","P5","P6","P7","P8","P9","P10","P11","P12","P13","P14","P15","P16","P17","P18","P19","P20","Mean","blank","Clim","Oper"],
    "range":["#4254c0","#3a5cb8","#2f5d9e","#3a7fbf","#1fb3e6","#2ec4d3","#1c9e80","#1fa05e","#2e9a3c","#3d9c3a","#6cc22e","#f0e40e","#edc812","#e6ad14","#d9a024","#e98d1e","#f07e1e","#f06a1e","#e04e1e","#cc321e","#9e1e1e","#ffffff","rgba(0,0,0,0)","#f24444","#35b545"]},
   "legend":{"title":null,"direction":"horizontal","columns":2,"labelExpr":"datum.label == 'Mean' ? 'Ens. mean' : datum.label == 'Clim' ? ['1981-2010','mean'] : datum.label == 'blank' ? '' : datum.label"}}}},
 {"data":{"name":"rain"},"transform":[{"filter":{"field":"key","oneOf":["P1","P2","P3","P4","P5","P6","P7","P8","P9","P10","P11","P12","P13","P14","P15","P16","P17","P18","P19","P20"]}}],
  "mark":{"type":"line","strokeWidth":1.1},"encoding":{"color":{"field":"key","type":"nominal"}}},
 {"data":{"name":"temp"},"transform":[{"fold":["Control"],"as":["key","v"]},{"filter":"isValid(datum.v)"}],
  "mark":{"type":"line","strokeWidth":3.5},"encoding":{"color":{"field":"key","type":"nominal"}}},
 {"data":{"name":"rain"},"transform":[{"filter":"datum.key == 'Control'"}],
  "mark":{"type":"line","strokeWidth":3.5},"encoding":{"color":{"field":"key","type":"nominal"}}},
 {"data":{"name":"temp"},"transform":[{"fold":["Clim"],"as":["key","v"]},{"filter":"isValid(datum.v)"}],
  "mark":{"type":"line","strokeWidth":3},"encoding":{"color":{"field":"key","type":"nominal"}}},
 {"data":{"name":"temp"},"transform":[{"fold":["Mean"],"as":["key","v"]},{"filter":"isValid(datum.v)"}],
  "mark":{"type":"line","strokeWidth":6,"color":"#f0b4b4","opacity":0.45},"encoding":{}},
 {"data":{"name":"temp"},"transform":[{"fold":["Mean"],"as":["key","v"]},{"filter":"isValid(datum.v)"}],
  "mark":{"type":"line","strokeWidth":3.5},"encoding":{"color":{"field":"key","type":"nominal"}}},
 {"data":{"name":"rain"},"transform":[{"filter":"datum.key == 'Mean'"}],
  "mark":{"type":"line","strokeWidth":3},"encoding":{"color":{"field":"key","type":"nominal"}}},
 {"data":{"name":"temp"},"transform":[{"fold":["Oper"],"as":["key","v"]},{"filter":"isValid(datum.v)"}],
  "mark":{"type":"line","strokeWidth":3.5},"encoding":{"color":{"field":"key","type":"nominal"}}},
 {"data":{"name":"rain"},"transform":[{"filter":"datum.key == 'Oper'"}],
  "mark":{"type":"line","strokeWidth":3.5},"encoding":{"color":{"field":"key","type":"nominal"}}},
 {"data":{"values":[{"t":"2020-09-14T11:30Z","t2":"2020-09-25T02:00Z","v":33.8,"v2":27.95}]},
  "mark":{"type":"rect","fill":"#f3f1f3","stroke":"#a9a2ab","strokeWidth":3,"strokeOpacity":0.85,"cornerRadius":8},
  "encoding":{"x2":{"field":"t2"},"y2":{"field":"v2"}}},
 {"data":{"values":[{"t":"2020-09-14T18:15Z","v":31.23,"label":"(A)"}]},
  "mark":{"type":"text","align":"left","baseline":"alphabetic","font":"Lato","fontSize":17,"fontWeight":"bold","color":"#8a8a8a"},
  "encoding":{"text":{"field":"label"}}},
 {"data":{"values":[{"t":"2020-09-15T08:00Z","v":31.23,"label":"-  Previsione d'insieme delle temperature a 850 hPa"}]},
  "mark":{"type":"text","align":"left","baseline":"alphabetic","font":"Lato","fontSize":16,"color":"#2a2a2a"},
  "encoding":{"text":{"field":"label"}}},
 {"data":{"values":[{"t":"2020-09-14T18:15Z","v":29.15,"label":"sulla verticale di Torino a partire dal 09 Settembre 2020."}]},
  "mark":{"type":"text","align":"left","baseline":"alphabetic","font":"Lato","fontSize":16,"color":"#2a2a2a"},
  "encoding":{"text":{"field":"label"}}},
 {"data":{"values":[{"t":"2020-09-07T18:13Z","v":-13.67,"label":"GFS Ensemble, 45N, 7.5E"},{"t":"2020-09-21T05:56Z","v":-13.62,"label":"Wetterzentrale.de"}]},
  "mark":{"type":"text","align":"left","baseline":"alphabetic","font":"DejaVu Sans","fontSize":15.5,"color":"#e0856c"},
  "encoding":{"text":{"field":"label"}}},
 {"data":{"values":[{"t":"2020-09-07T20:00Z","v":23.5,"label":"n"},{"t":"2020-09-07T19:00Z","v":21.2,"label":"0"}]},
  "mark":{"type":"text","align":"right","baseline":"middle","font":"DejaVu Sans","fontSize":12,"color":"#e0856c"},
  "encoding":{"text":{"field":"label"}}}
]
},
{"data":{"values":[{"r":0},{"r":40}]},"mark":{"type":"rule","opacity":0},
 "encoding":{"y":{"field":"r","type":"quantitative","scale":{"domain":[0,40],"nice":false},
  "axis":{"orient":"right","values":[0,1,2,3,4,5,6,7,8,9,10,11,12,13,14,15,16,17,18,19,20,21,22,23,24,25,26,27,28,29,30,31,32,33,34,35,36,37,38,39,40],"labels":false,"ticks":true,"tickSize":-4,"tickColor":"#e07a55","tickWidth":1,"domain":false,"grid":false,"title":null}}}}
],
"resolve":{"scale":{"y":"independent"}}
}
